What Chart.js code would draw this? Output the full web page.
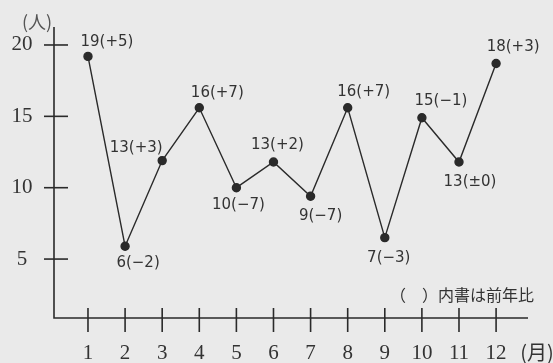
<!DOCTYPE html>
<html lang="ja">
<head>
<meta charset="utf-8">
<script src="https://cdn.jsdelivr.net/npm/chart.js@4.4.1/dist/chart.umd.min.js"></script>
<style>
  html, body { margin: 0; padding: 0; background: #eaeaea; }
  #chart { display: block; }
</style>
</head>
<body>
<canvas id="chart" width="553" height="363"></canvas>
<script>
// 月
const months = [1, 2, 3, 4, 5, 6, 7, 8, 9, 10, 11, 12];
// 図上の点の位置（人）
const members = [19.2, 5.9, 11.9, 15.6, 10, 11.8, 9.4, 15.6, 6.5, 14.9, 11.8, 18.7];
// 点につけた数字（　）内は前年比
const pointLabels = ["19(+5)", "6(−2)", "13(+3)", "16(+7)", "10(−7)", "13(+2)",
                     "9(−7)", "16(+7)", "7(−3)", "15(−1)", "13(±0)", "18(+3)"];
const yTicks = [5, 10, 15, 20];

// ラベルの位置（点からのずれ）
const labelOffsets = [[19, -14], [13, 17], [-26, -12], [18, -15], [2, 17], [4, -17],
                      [10, 20], [16, -16], [4, 20], [19, -17], [11, 20], [17, -16]];

const ink = "#2a2a2a";
const serif = "'Liberation Serif', 'DejaVu Serif', serif";
const jp = "'Noto Sans CJK JP', 'Noto Sans', sans-serif";
const sans = "'DejaVu Sans', sans-serif";

const axesPlugin = {
  id: "axesPlugin",
  beforeDraw(chart) {
    const ctx = chart.ctx;
    ctx.save();
    ctx.fillStyle = "#eaeaea";
    ctx.fillRect(0, 0, chart.width, chart.height);
    ctx.restore();
  },
  beforeDatasetsDraw(chart) {
    const ctx = chart.ctx;
    const area = chart.chartArea;
    const xs = chart.scales.x;
    const ys = chart.scales.y;
    ctx.save();
    ctx.strokeStyle = ink;
    ctx.lineWidth = 1.6;
    // 軸
    ctx.beginPath();
    ctx.moveTo(area.left, area.top);
    ctx.lineTo(area.left, area.bottom);
    ctx.lineTo(area.right, area.bottom);
    ctx.stroke();

    ctx.fillStyle = "#333";
    ctx.font = "21px " + serif;
    ctx.textAlign = "center";
    ctx.textBaseline = "middle";
    // y 目盛
    yTicks.forEach(v => {
      const y = ys.getPixelForValue(v);
      ctx.beginPath();
      ctx.moveTo(area.left - 10, y);
      ctx.lineTo(area.left + 14, y);
      ctx.stroke();
      ctx.fillText(String(v), 22, y);
    });
    // x 目盛
    months.forEach(m => {
      const x = xs.getPixelForValue(m);
      ctx.beginPath();
      ctx.moveTo(x, area.bottom - 10);
      ctx.lineTo(x, area.bottom + 14);
      ctx.stroke();
      ctx.fillText(String(m), x, 353);
    });

    ctx.font = "18px " + jp;
    ctx.fillStyle = "#555";
    ctx.fillText("(人)", 37, 22);
    ctx.font = "20px " + jp;
    ctx.fillStyle = "#333";
    ctx.fillText("(月)", 537, 352);

    ctx.font = "16px " + jp;
    ctx.textAlign = "left";
    ctx.fillText("（　）内書は前年比", 390, 295);
    ctx.restore();
  },
  afterDatasetsDraw(chart) {
    const ctx = chart.ctx;
    const meta = chart.getDatasetMeta(0);
    ctx.save();
    ctx.fillStyle = "#333";
    ctx.font = "15px " + sans;
    ctx.textAlign = "center";
    ctx.textBaseline = "middle";
    meta.data.forEach((pt, i) => {
      const off = labelOffsets[i];
      ctx.fillText(pointLabels[i], pt.x + off[0], pt.y + off[1]);
    });
    ctx.restore();
  }
};

new Chart(document.getElementById("chart"), {
  type: "line",
  data: {
    datasets: [{
      data: months.map((m, i) => ({ x: m, y: members[i] })),
      borderColor: ink,
      borderWidth: 1.4,
      pointRadius: 4,
      pointBackgroundColor: ink,
      pointBorderColor: ink,
      tension: 0
    }]
  },
  options: {
    responsive: false,
    animation: false,
    devicePixelRatio: 1,
    layout: { padding: { left: 54, right: 25, top: 27, bottom: 45 } },
    plugins: { legend: { display: false }, tooltip: { enabled: false }, title: { display: false } },
    scales: {
      x: { type: "linear", min: 0.084, max: 12.86, display: false },
      y: { type: "linear", min: 0.87, max: 21.26, display: false }
    }
  },
  plugins: [axesPlugin]
});
</script>
</body>
</html>
